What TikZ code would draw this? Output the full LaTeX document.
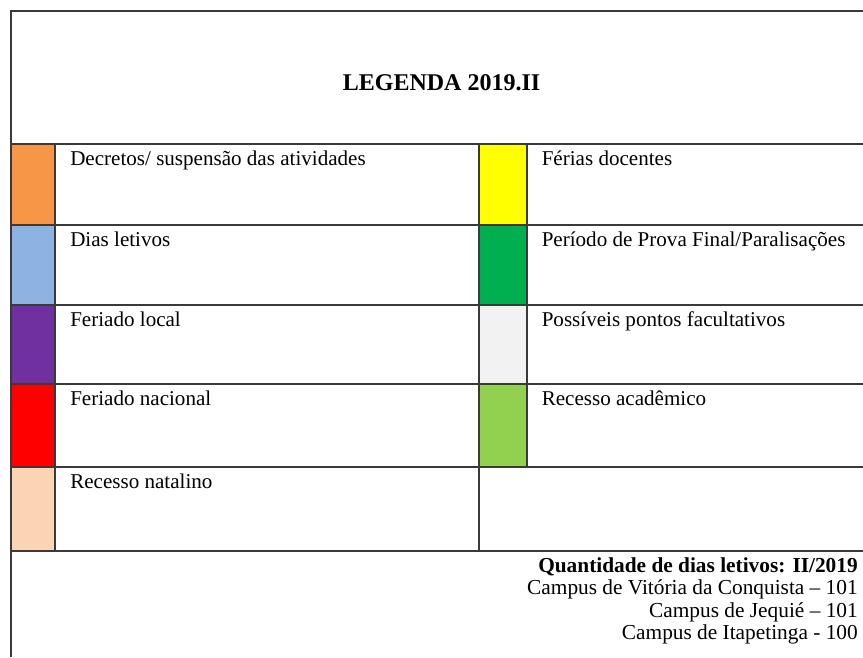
\documentclass[tikz,border=0pt]{standalone}
\usepackage{fontspec}
\setmainfont{Liberation Serif}
\definecolor{cOrange}{HTML}{F79646}
\definecolor{cBlue}{HTML}{8DB3E2}
\definecolor{cPurple}{HTML}{7030A0}
\definecolor{cRed}{HTML}{FF0000}
\definecolor{cPeach}{HTML}{FBD4B4}
\definecolor{cYellow}{HTML}{FFFF00}
\definecolor{cGreen}{HTML}{00B050}
\definecolor{cGray}{HTML}{F2F2F2}
\definecolor{cLime}{HTML}{92D050}
\definecolor{rule}{HTML}{3A3A3A}
\tikzset{
  gridline/.style={draw=rule, line width=0.8pt},
  lbl/.style={anchor=base west, inner sep=0pt, font=\fontsize{15.8}{18}\selectfont},
  info/.style={anchor=base east, inner sep=0pt, font=\fontsize{16}{18}\selectfont},
  ttl/.style={anchor=base, inner sep=0pt, font=\fontsize{18}{21}\selectfont\bfseries},
}
\begin{document}
\begin{tikzpicture}[x=0.75pt,y=-0.75pt]
\useasboundingbox (0,0) rectangle (863,657);
% swatches
\fill[cOrange] (11,144) rectangle (55,225);
\fill[cBlue]   (11,225) rectangle (55,305);
\fill[cPurple] (11,305) rectangle (55,384);
\fill[cRed]    (11,384) rectangle (55,467);
\fill[cPeach]  (11,467) rectangle (55,551);
\fill[cYellow] (479,144) rectangle (527,225);
\fill[cGreen]  (479,225) rectangle (527,305);
\fill[cGray]   (479,305) rectangle (527,384);
\fill[cLime]   (479,384) rectangle (527,467);
% grid
\draw[gridline] (11,657) -- (11,11) -- (863,11);
\foreach \yy in {144,225,305,384,467,551}
  \draw[gridline] (11,\yy) -- (863,\yy);
\draw[gridline] (55,144) -- (55,551);
\draw[gridline] (479,144) -- (479,551);
\draw[gridline] (527,144) -- (527,467);
% title
\node[ttl] (title) at (441.5,90) {LEGENDA 2019.II};
% left labels
\node[lbl] (decretos) at (70,165) {Decretos/ suspensão das atividades};
\node[lbl] (dias) at (70,246) {Dias letivos};
\node[lbl] (flocal) at (70,326) {Feriado local};
\node[lbl] (fnac) at (70,405) {Feriado nacional};
\node[lbl] (natal) at (70,488) {Recesso natalino};
% right labels
\node[lbl] (ferias) at (541.5,165) {Férias docentes};
\node[lbl] (prova) at (541.5,246) {Período de Prova Final/Paralisações};
\node[lbl] (pontos) at (541.5,326) {Possíveis pontos facultativos};
\node[lbl] (academico) at (541.5,405) {Recesso acadêmico};
% bottom info
\node[info, font=\fontsize{16}{18}\selectfont\bfseries] (qtd) at (858,572) {Quantidade de dias letivos: II/2019};
\node[info] (vdc) at (858,594.5) {Campus de Vitória da Conquista – 101};
\node[info] (jeq) at (858,617) {Campus de Jequié – 101};
\node[info] (ita) at (858,639.5) {Campus de Itapetinga - 100};
\end{tikzpicture}
\end{document}
